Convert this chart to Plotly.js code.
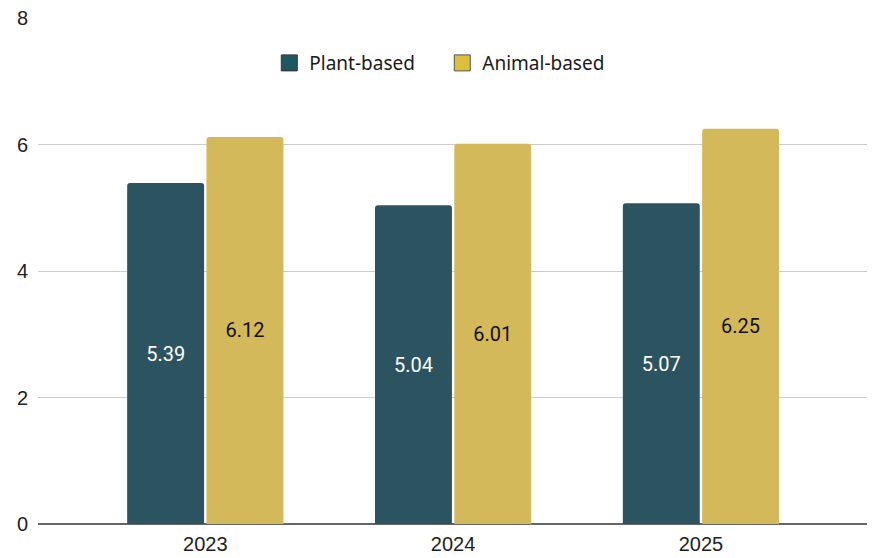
<!DOCTYPE html>
<html>
<head>
<meta charset="utf-8">
<script src="https://cdn.plot.ly/plotly-3.0.1.min.js"></script>
<style>html,body{margin:0;padding:0;background:#fff;}#chart{width:874px;height:558px;}</style>
</head>
<body>
<div id="chart"></div>
<script>
const years = ["2023", "2024", "2025"];
const plantBased = [5.39, 5.04, 5.07];
const animalBased = [6.12, 6.01, 6.25];
const yTickVals = [0, 2, 4, 6, 8];
const seriesNames = ["Plant-based", "Animal-based"];
const seriesColors = ["#2c5460", "#d3b95a"];

const traces = [
  {
    type: "bar", name: seriesNames[0], x: years, y: plantBased, showlegend: false,
    marker: {color: seriesColors[0]},
    text: plantBased.map(v => v.toFixed(2)), textposition: "inside",
    insidetextanchor: "middle", textangle: 0,
    textfont: {family: "Roboto", size: 20, color: "#ffffff"},
    hoverinfo: "x+y"
  },
  {
    type: "bar", name: seriesNames[1], x: years, y: animalBased, showlegend: false,
    marker: {color: seriesColors[1]},
    text: animalBased.map(v => v.toFixed(2)), textposition: "inside",
    insidetextanchor: "middle", textangle: 0,
    textfont: {family: "Roboto", size: 20, color: "#111111"},
    hoverinfo: "x+y"
  },
  {
    type: "scatter", mode: "markers", name: seriesNames[0], x: [null], y: [null],
    marker: {symbol: "square", size: 16, color: "#1d5861", line: {color: "#333333", width: 1}}
  },
  {
    type: "scatter", mode: "markers", name: seriesNames[1], x: [null], y: [null],
    marker: {symbol: "square", size: 16, color: "#dcbf3c", line: {color: "#555555", width: 1}}
  }
];

const layout = {
  width: 874, height: 558,
  margin: {l: 38, r: 7, t: 18, b: 34},
  paper_bgcolor: "#ffffff", plot_bgcolor: "#ffffff",
  barmode: "group", bargap: 0.36, bargroupgap: 0.03, barcornerradius: 3,
  showlegend: true,
  legend: {orientation: "h", x: 0.279, xanchor: "left", y: 0.911, yanchor: "middle",
           font: {family: "Noto Sans", size: 19, color: "#1a1a1a"}, itemwidth: 30,
           entrywidth: 128, entrywidthmode: "pixels",
           traceorder: "normal", itemsizing: "trace"},
  xaxis: {type: "category", range: [-0.675, 2.67], showgrid: false, showline: false,
          tickfont: {family: "Liberation Sans, Arial", size: 20, color: "#222222"}, ticks: "",
          ticklabelstandoff: 6},
  yaxis: {range: [0, 8], tickvals: yTickVals, showgrid: true, gridcolor: "#cccccc", gridwidth: 1,
          zeroline: true, zerolinecolor: "#666666", zerolinewidth: 2,
          tickfont: {family: "Liberation Sans, Arial", size: 20, color: "#222222"},
          ticklabelstandoff: 9, ticks: ""}
};

Plotly.newPlot("chart", traces, layout, {displayModeBar: false, staticPlot: true});
</script>
</body>
</html>
